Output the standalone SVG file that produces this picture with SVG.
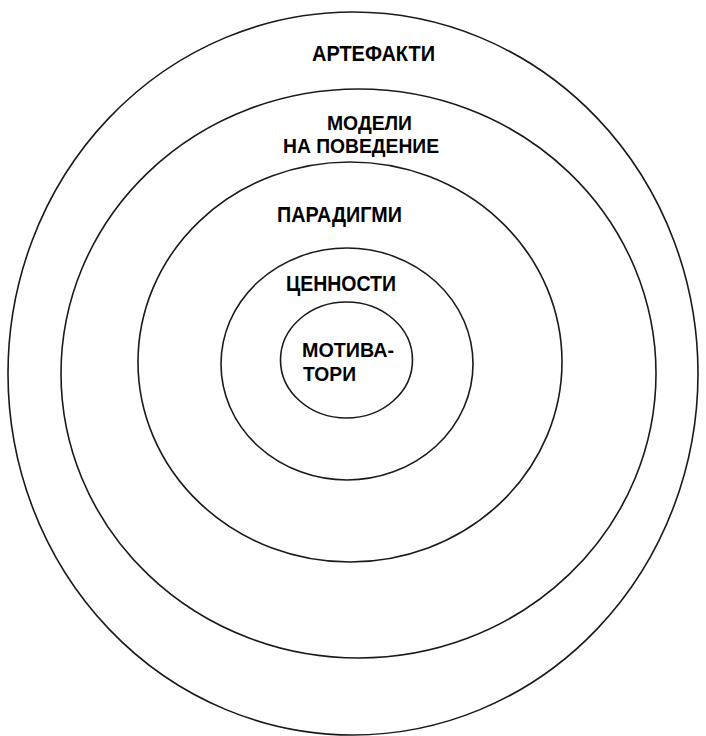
<svg xmlns="http://www.w3.org/2000/svg" width="706" height="736" viewBox="0 0 706 736">
<style>
.ring{fill:none;stroke:#1a1a1a;stroke-width:1.6}
.lbl{font-family:"Liberation Sans",Arial,sans-serif;font-weight:bold;font-size:22px;fill:#000}
.sm{font-size:20px}
</style>
<rect width="706" height="736" fill="#fff"/>
<g id="artefakti">
<ellipse class="ring" cx="353" cy="373.5" rx="345" ry="361.5"/>
<text class="lbl" x="312" y="61" textLength="123" lengthAdjust="spacingAndGlyphs">АРТЕФАКТИ</text>
</g>
<g id="modeli">
<ellipse class="ring" cx="358.5" cy="373.5" rx="297.5" ry="284.5"/>
<text class="lbl sm" x="327" y="129.5" textLength="85" lengthAdjust="spacingAndGlyphs">МОДЕЛИ</text>
<text class="lbl sm" x="283" y="152.5" textLength="156" lengthAdjust="spacingAndGlyphs">НА ПОВЕДЕНИЕ</text>
</g>
<g id="paradigmi">
<ellipse class="ring" cx="350" cy="362" rx="212" ry="200"/>
<text class="lbl" x="277" y="222" textLength="125" lengthAdjust="spacingAndGlyphs">ПАРАДИГМИ</text>
</g>
<g id="cennosti">
<ellipse class="ring" cx="347" cy="364" rx="126" ry="116"/>
<text class="lbl" x="286" y="291" textLength="110" lengthAdjust="spacingAndGlyphs">ЦЕННОСТИ</text>
</g>
<g id="motivatori">
<ellipse class="ring" cx="346.5" cy="360" rx="66" ry="58"/>
<text class="lbl sm" x="302" y="357" textLength="92" lengthAdjust="spacingAndGlyphs">МОТИВА-</text>
<text class="lbl sm" x="303" y="381" textLength="53" lengthAdjust="spacingAndGlyphs">ТОРИ</text>
</g>
<g id="connectors"></g>
</svg>
